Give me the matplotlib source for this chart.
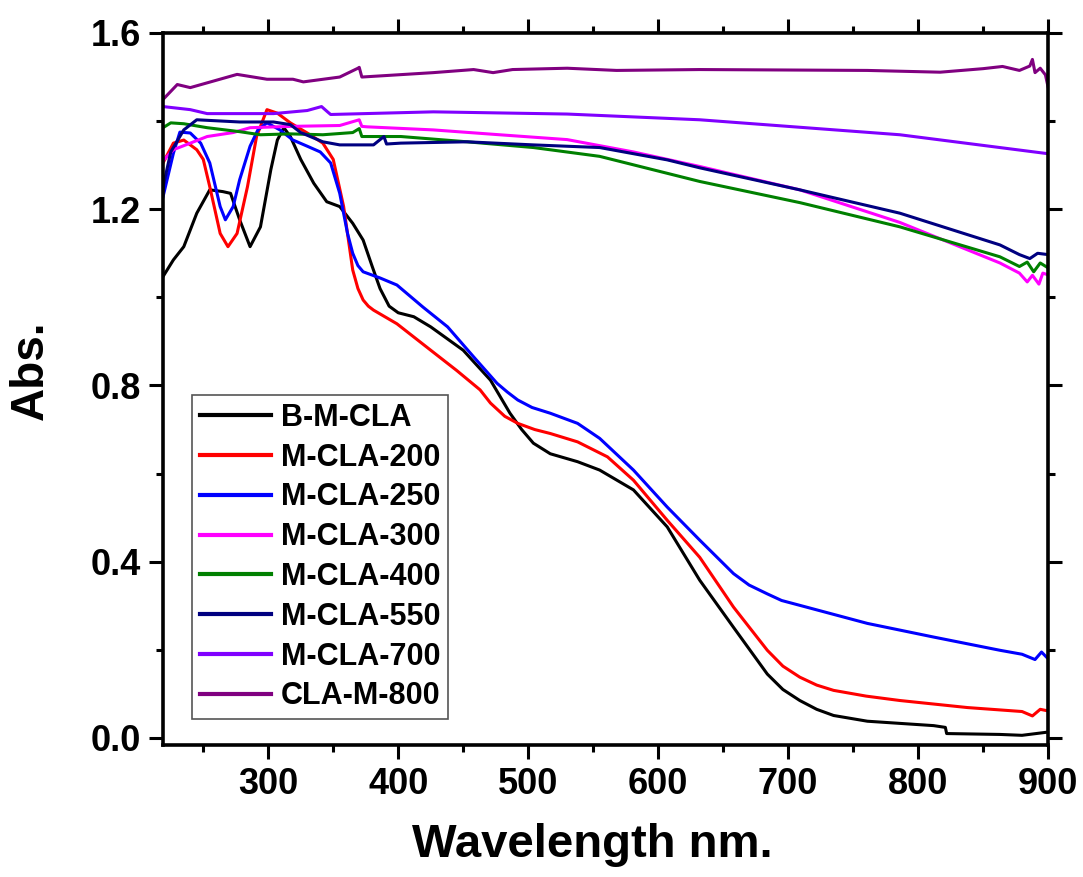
import numpy as np
import matplotlib
matplotlib.use("Agg")
import matplotlib.pyplot as plt
from matplotlib.ticker import MultipleLocator

plt.rcParams['font.family'] = ['Liberation Sans', 'DejaVu Sans']
plt.rcParams['font.weight'] = 'bold'

# values (wavelength nm, absorbance)
x_bmcla = [219, 227, 235, 245, 255, 265, 271, 278, 286, 294, 302, 307, 312, 317, 325, 335, 345,
           355, 365, 373, 380, 386, 393, 400, 412, 425, 450, 471, 486, 495, 504, 517, 538, 555,
           581, 607, 632, 658, 684, 696, 709, 722, 735, 761, 812, 821, 822, 863, 880, 899]
y_bmcla = [1.047, 1.085, 1.115, 1.191, 1.244, 1.240, 1.236, 1.176, 1.115, 1.160, 1.290, 1.357,
           1.385, 1.365, 1.313, 1.259, 1.217, 1.206, 1.168, 1.130, 1.070, 1.020, 0.980, 0.965,
           0.956, 0.933, 0.880, 0.812, 0.737, 0.700, 0.669, 0.645, 0.627, 0.608, 0.563, 0.479,
           0.358, 0.251, 0.145, 0.110, 0.085, 0.065, 0.051, 0.038, 0.028, 0.024, 0.010, 0.008,
           0.006, 0.013]

x_200 = [219, 227, 235, 245, 250, 255, 263, 269, 276, 284, 291, 299, 307, 317, 330, 342, 350,
         358, 365, 369, 373, 377, 381, 399, 425, 445, 463, 471, 482, 492, 505, 517, 538, 561,
         581, 607, 632, 658, 684, 696, 709, 722, 735, 760, 786, 838, 880, 888, 894, 899]
y_200 = [1.305, 1.350, 1.357, 1.335, 1.313, 1.251, 1.145, 1.115, 1.145, 1.251, 1.365, 1.426,
         1.418, 1.396, 1.373, 1.350, 1.313, 1.206, 1.062, 1.020, 0.994, 0.980, 0.971, 0.940,
         0.880, 0.834, 0.790, 0.760, 0.730, 0.714, 0.700, 0.691, 0.672, 0.638, 0.585, 0.494,
         0.410, 0.297, 0.199, 0.163, 0.138, 0.120, 0.108, 0.095, 0.085, 0.069, 0.060, 0.050,
         0.065, 0.062]

x_250 = [219, 227, 232, 240, 248, 255, 263, 267, 273, 278, 286, 292, 299, 309, 319, 330, 340,
         348, 355, 361, 365, 369, 373, 386, 399, 419, 438, 458, 476, 484, 492, 503, 517, 538,
         555, 581, 607, 632, 658, 670, 684, 695, 709, 761, 812, 863, 880, 890, 895, 899]
y_250 = [1.228, 1.327, 1.375, 1.373, 1.350, 1.305, 1.206, 1.176, 1.206, 1.267, 1.343, 1.380,
         1.396, 1.380, 1.357, 1.343, 1.330, 1.305, 1.236, 1.145, 1.100, 1.072, 1.058, 1.044,
         1.028, 0.978, 0.933, 0.865, 0.805, 0.785, 0.767, 0.750, 0.737, 0.714, 0.680, 0.608,
         0.524, 0.449, 0.373, 0.347, 0.327, 0.312, 0.301, 0.260, 0.229, 0.199, 0.190, 0.178,
         0.195, 0.183]

x_300 = [219, 227, 253, 273, 286, 317, 355, 370, 372, 376, 427, 478, 530, 581, 632, 709, 786,
         863, 878, 884, 888, 893, 896, 900]
y_300 = [1.310, 1.335, 1.365, 1.374, 1.385, 1.388, 1.390, 1.403, 1.388, 1.387, 1.380, 1.369,
         1.358, 1.330, 1.297, 1.244, 1.170, 1.078, 1.055, 1.035, 1.050, 1.030, 1.055, 1.051]

x_400 = [219, 225, 235, 253, 278, 294, 317, 342, 365, 370, 372, 376, 402, 453, 504, 555, 632,
         709, 786, 863, 878, 884, 889, 894, 900]
y_400 = [1.385, 1.396, 1.394, 1.385, 1.376, 1.369, 1.371, 1.369, 1.374, 1.383, 1.365, 1.365,
         1.365, 1.353, 1.340, 1.320, 1.263, 1.215, 1.160, 1.092, 1.070, 1.080, 1.058, 1.078,
         1.067]

x_550 = [219, 225, 235, 245, 278, 304, 317, 325, 342, 355, 381, 389, 391, 402, 453, 504, 555,
         607, 632, 709, 786, 863, 878, 886, 892, 900]
y_550 = [1.250, 1.330, 1.380, 1.403, 1.398, 1.398, 1.392, 1.374, 1.353, 1.346, 1.346, 1.365,
         1.348, 1.350, 1.353, 1.346, 1.340, 1.312, 1.294, 1.244, 1.191, 1.119, 1.097, 1.088,
         1.100, 1.097]

x_700 = [219, 240, 253, 304, 330, 341, 346, 348, 427, 530, 632, 786, 900]
y_700 = [1.433, 1.426, 1.417, 1.417, 1.424, 1.433, 1.420, 1.415, 1.421, 1.416, 1.403, 1.369,
         1.326]

x_800 = [219, 230, 240, 276, 299, 319, 327, 355, 369, 370, 372, 427, 458, 473, 488, 530, 568,
         632, 761, 817, 850, 865, 878, 886, 888, 890, 894, 898, 900]
y_800 = [1.449, 1.483, 1.476, 1.506, 1.495, 1.495, 1.489, 1.500, 1.520, 1.522, 1.500, 1.510,
         1.517, 1.510, 1.517, 1.520, 1.515, 1.517, 1.515, 1.511, 1.519, 1.524, 1.515, 1.525,
         1.540, 1.510, 1.520, 1.505, 1.478]

series = [
    ("B-M-CLA", x_bmcla, y_bmcla, "#000000"),
    ("M-CLA-200", x_200, y_200, "#ff0000"),
    ("M-CLA-250", x_250, y_250, "#0000ff"),
    ("M-CLA-300", x_300, y_300, "#ff00ff"),
    ("M-CLA-400", x_400, y_400, "#008000"),
    ("M-CLA-550", x_550, y_550, "#000080"),
    ("M-CLA-700", x_700, y_700, "#8000ff"),
    ("CLA-M-800", x_800, y_800, "#800080"),
]

fig = plt.figure(figsize=(10.83, 8.77), dpi=100)
ax = fig.add_axes([0.1505, 0.1505, 0.8172, 0.8119])

for name, xs, ys, c in series:
    ax.plot(xs, ys, color=c, lw=2.2, label=name)

ax.set_xlim(219, 900)
ax.set_ylim(-0.016, 1.6)
ax.xaxis.set_major_locator(MultipleLocator(100))
ax.xaxis.set_minor_locator(MultipleLocator(50))
ax.yaxis.set_major_locator(MultipleLocator(0.4))
ax.yaxis.set_minor_locator(MultipleLocator(0.2))
ax.yaxis.set_major_formatter(matplotlib.ticker.FormatStrFormatter('%.1f'))

for s in ax.spines.values():
    s.set_linewidth(2.6)
ax.tick_params(which='both', direction='out', top=True, right=True, width=2.2,
               labelsize=26, pad=6)
ax.tick_params(which='major', length=10)
ax.tick_params(which='minor', length=5)
for lab in ax.get_xticklabels() + ax.get_yticklabels():
    lab.set_fontweight('bold')

ax.set_xlabel("Wavelength nm.", fontsize=34, fontweight='bold')
ax.set_ylabel("Abs.", fontsize=33, fontweight='bold')
ax.xaxis.set_label_coords(0.485, -0.11)
ax.yaxis.set_label_coords(-0.125, 0.527)

leg = ax.legend(loc='lower left', bbox_to_anchor=(0.0328, 0.0365), borderaxespad=0,
                handlelength=2.35, handletextpad=0.3, labelspacing=0.32,
                borderpad=0.25, fancybox=False, framealpha=1, edgecolor='#555555',
                prop={'weight': 'bold', 'size': 22})
leg.get_frame().set_linewidth(1.2)
for line in leg.get_lines():
    line.set_linewidth(3)

fig.savefig("out.png", dpi=100)
